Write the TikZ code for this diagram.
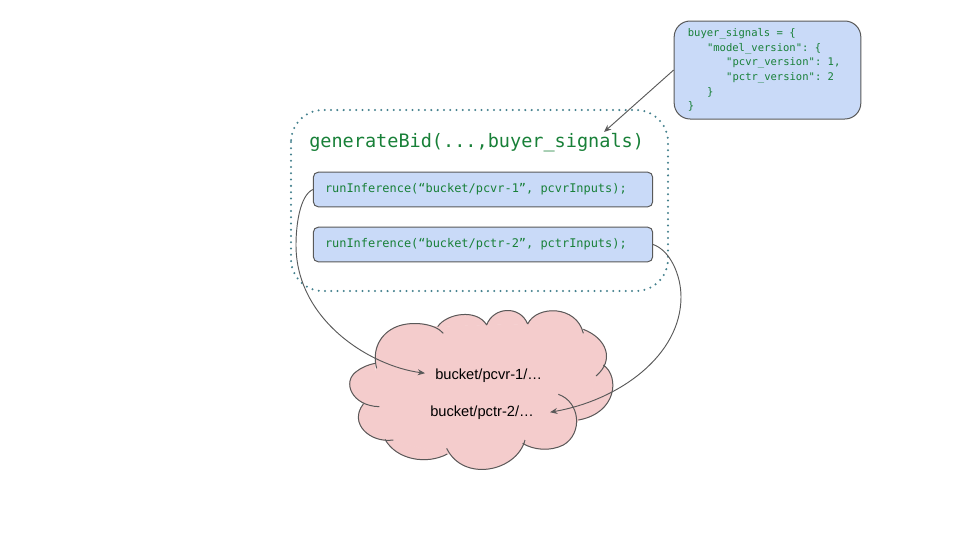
\documentclass[tikz,border=0pt]{standalone}
\usepackage{fontspec}
\setmainfont{Liberation Sans}
\setmonofont{DejaVu Sans Mono}
\usetikzlibrary{arrows.meta}
\definecolor{codegreen}{HTML}{188038}
\definecolor{boxblue}{HTML}{C9DAF8}
\definecolor{edgegrey}{HTML}{595959}
\definecolor{cloudpink}{HTML}{F4CCCC}
\definecolor{dotteal}{HTML}{45818E}
\tikzset{
  codebox/.style={draw=edgegrey,fill=boxblue,line width=0.75pt,rounded corners=3.75pt,minimum width=254.5pt,minimum height=26pt,inner sep=0pt,text width=237pt,align=left,font=\ttfamily\fontsize{8.95pt}{11pt}\selectfont,text=codegreen},
  signalbox/.style={draw=edgegrey,fill=boxblue,line width=0.75pt,rounded corners=12pt,minimum width=140pt,minimum height=73.5pt,inner sep=0pt,text width=119.5pt,align=left,font=\ttfamily\fontsize{7.9pt}{11pt}\selectfont,text=codegreen},
  dotframe/.style={draw=dotteal,line width=1.7pt,line cap=round,dash pattern=on 0pt off 4.7pt,rounded corners=24pt},
  link/.style={draw=edgegrey,line width=0.7pt,-{Stealth[length=5.5pt,width=4.5pt]}},
  bucket/.style={font=\fontsize{11pt}{13pt}\selectfont,anchor=base west,inner ysep=2pt},
  cloudedge/.style={draw=edgegrey,line width=0.75pt}
}
\def\cloudpath{
  (110,205) .. controls (95,150) and (120,100) .. (170,80) .. controls (215,62) and (285,70) .. (310,100)
  (293,80) .. controls (320,40) and (410,25) .. (440,75)
  (440,75) .. controls (460,20) and (540,15) .. (563,72)
  (563,72) .. controls (590,15) and (710,15) .. (730,100)
  (730,88) .. controls (800,115) and (825,180) .. (768,228)
  (790,195) .. controls (840,230) and (830,340) .. (715,360)
  (655,283) .. controls (720,305) and (730,400) .. (670,435) .. controls (630,455) and (580,450) .. (548,430)
  (555,420) .. controls (530,515) and (370,548) .. (320,445)
  (322,462) .. controls (260,495) and (170,480) .. (135,418)
  (160,420) .. controls (90,430) and (25,370) .. (70,312)
  (118,320) .. controls (35,318) and (5,245) .. (50,214) .. controls (65,202) and (85,194) .. (105,190)
}
\newcommand{\fixspaces}{\spaceskip=0pt \xspaceskip=0pt }
\begin{document}
\begin{tikzpicture}[x=0.75pt,y=-0.75pt]
\useasboundingbox (0,0) rectangle (960,540);
% cloud
\begin{scope}[x=0.25pt,y=-0.25pt,shift={(255pt,-225pt)}]
  \filldraw[fill=cloudpink,draw=cloudpink,line width=0.6pt] \cloudpath;
  \filldraw[fill=cloudpink,draw=cloudpink,line width=0.6pt] (110,205) -- (170,80) -- (293,80) -- (440,75) -- (563,72) -- (730,95) -- (790,195) -- (715,360) -- (670,435) -- (548,430) -- (322,462) -- (135,418) -- (70,312) -- cycle;
  \draw[cloudedge] \cloudpath;
\end{scope}
% frame
\draw[dotframe] (291,110) rectangle (668,291);
% boxes
\node[signalbox] (signals) at (767.5,70) {\fixspaces buyer\_signals = \{\\
\hspace*{14.4pt}"model\_version": \{\\
\hspace*{28.8pt}"pcvr\_version": 1,\\
\hspace*{28.8pt}"pctr\_version": 2\\
\hspace*{14.4pt}\}\\
\}};
\node[anchor=base west,inner sep=0pt,text=codegreen,font=\ttfamily\fontsize{13.9pt}{16pt}\selectfont] (call) at (309,147) {generateBid(...,buyer\_signals)};
\node[codebox] (pcvrrun) at (483,189.5) {\fixspaces\raisebox{-0.75pt}{runInference(“bucket/pcvr-1”, pcvrInputs);}};
\node[codebox] (pctrrun) at (483,244.5) {\fixspaces\raisebox{-0.75pt}{runInference(“bucket/pctr-2”, pctrInputs);}};
\coordinate (callpoint) at (604,132);
% cloud labels
\node[bucket,inner xsep=7.5pt] (pcvr) at (425,379) {bucket/pcvr-1/…};
\node[bucket,inner xsep=12pt] (pctr) at (414,416) {bucket/pctr-2/…};
% connectors
\draw[link] (signals.west) -- (callpoint);
\draw[link] (pcvrrun.west) .. controls +(-13,6) and (296,225) .. (296,245) .. controls (296,320) and (370,366) .. ([yshift=1.5pt]pcvr.west);
\draw[link] (pctrrun.east) .. controls +(17,6) and (681,275) .. (681,297) .. controls (681,355) and (620,400) .. (pctr.east);
\end{tikzpicture}
\end{document}
